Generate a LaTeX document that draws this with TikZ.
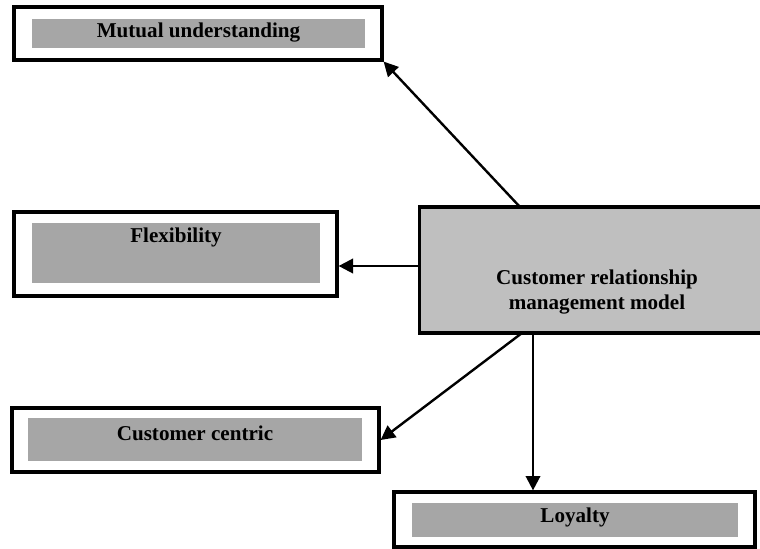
\documentclass[tikz,border=0pt]{standalone}
\usepackage{fontspec}
\setmainfont{Liberation Serif}
\usepackage{xcolor}
\usepackage{tikz}
\usetikzlibrary{arrows.meta,positioning,calc}
\definecolor{crmgray}{gray}{0.75}
\definecolor{bargray}{gray}{0.65}
\tikzset{
  arr/.style={-{Triangle[length=0.36cm, width=0.36cm]}, line width=0.06cm, black},
  outerbox/.style={rectangle, draw, line width=0.08cm, fill=white, inner sep=0pt},
  bar/.style={rectangle, fill=bargray, inner sep=0pt},
  crmbox/.style={rectangle, draw, line width=0.08cm, fill=crmgray, inner sep=0pt},
  lbl/.style={font=\fontsize{15}{17.8}\selectfont\bfseries, align=center, inner sep=0pt},
}

\begin{document}
\begin{tikzpicture}
\useasboundingbox (0,0) rectangle (19,13.7);
% --- Central box: CRM model ---
\node[crmbox, minimum width=8.6cm, minimum height=3.15cm] (crm) at (14.78,6.95) {};
\node[lbl] (crmtext) at (14.925,6.39) {Customer relationship\\management model};
% --- Mutual understanding ---
\node[outerbox, minimum width=9.2cm, minimum height=1.325cm] (mutual) at (4.95,12.8625) {};
\node[bar, minimum width=8.325cm, minimum height=0.725cm] (mutualbar) at (4.9625,12.8625) {};
\node[lbl] (mutualtext) at (4.9625,12.875) {Mutual understanding};
% --- Flexibility ---
\node[outerbox, minimum width=8.075cm, minimum height=2.1cm] (flex) at (4.3875,7.35) {};
\node[bar, minimum width=7.2cm, minimum height=1.5cm] (flexbar) at (4.4,7.375) {};
\node[lbl] (flextext) at (4.4,7.775) {Flexibility};
% --- Customer centric ---
\node[outerbox, minimum width=9.175cm, minimum height=1.6cm] (centric) at (4.8875,2.7) {};
\node[bar, minimum width=8.35cm, minimum height=1.075cm] (centricbar) at (4.875,2.7125) {};
\node[lbl] (centrictext) at (4.875,2.875) {Customer centric};
% --- Loyalty ---
\node[outerbox, minimum width=9.025cm, minimum height=1.375cm] (loyal) at (14.3625,0.7125) {};
\node[bar, minimum width=8.15cm, minimum height=0.85cm] (loyalbar) at (14.375,0.7) {};
\node[lbl] (loyaltext) at (14.375,0.775) {Loyalty};
% --- Arrows out of the central box ---
\coordinate (crmtop) at (13.0,8.525);
\coordinate (crmleft) at (10.475,7.05);
\coordinate (crmbotA) at (13.05,5.375);
\coordinate (crmbotB) at (13.325,5.375);
\draw[arr] (crmtop) -- (mutual.south east);
\draw[arr] (crmleft) -- (crmleft -| flex.east);
\draw[arr] (crmbotA) -- (centric.east);
\draw[arr] (crmbotB) -- (crmbotB |- loyal.north);
\end{tikzpicture}
\end{document}
